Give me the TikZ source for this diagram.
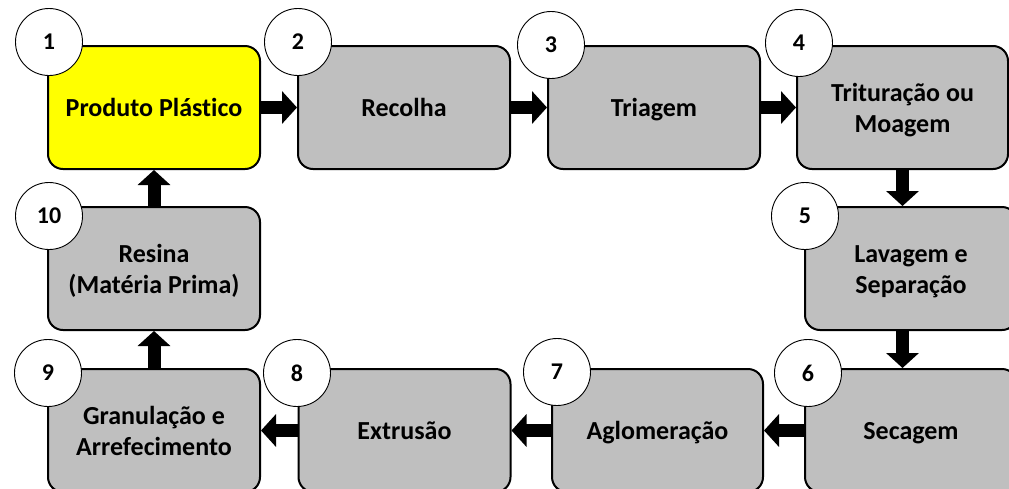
\documentclass[tikz,border=0pt]{standalone}
\usepackage{fontspec}
\setmainfont[Ligatures=NoCommon]{Carlito}
\usetikzlibrary{arrows.meta}
\definecolor{boxgray}{RGB}{191,191,191}
\definecolor{boxyellow}{RGB}{255,255,0}
\newcommand\steptxt[1]{\raisebox{-3pt}[\height][\depth]{\begin{tabular}{@{}c@{}}#1\end{tabular}}}
\begin{document}
\begin{tikzpicture}[x=1pt,y=-1pt,
  stepbox/.style={draw=black, line width=2pt, rounded corners=15pt, fill=boxgray,
    minimum width=212pt, minimum height=123pt, inner sep=0pt, align=center,
    font=\fontsize{26}{31.5}\selectfont\bfseries, text=black},
  numcirc/.style={circle, draw=black, line width=0.9pt, fill=white,
    minimum size=67pt, inner sep=0pt, font=\fontsize{24}{28}\selectfont\bfseries},
  blockarrow/.style={draw=black, line width=13pt, -{Triangle[length=15pt,width=32pt]}}
]
\useasboundingbox (0,0) rectangle (1009,488);
\clip (0,0) rectangle (1009,488);
% boxes
\node[stepbox, fill=boxyellow] (b1) at (154,107.5) {\steptxt{Produto Plástico}};
\node[stepbox] (b2) at (404,107.5) {\steptxt{Recolha}};
\node[stepbox] (b3) at (654,107.5) {\steptxt{Triagem}};
\node[stepbox, minimum width=211pt] (b4) at (902.5,107.5) {\steptxt{Trituração ou\\Moagem}};
\node[stepbox] (b5) at (911,268.5) {\steptxt{Lavagem e\\Separação}};
\node[stepbox] (b6) at (911,430.5) {\steptxt{Secagem}};
\node[stepbox, minimum width=211pt] (b7) at (657.5,430.5) {\steptxt{Aglomeração}};
\node[stepbox] (b8) at (404.5,430.5) {\steptxt{Extrusão}};
\node[stepbox] (b9) at (154,430.5) {\steptxt{Granulação e\\Arrefecimento}};
\node[stepbox] (b10) at (154,268.5) {\steptxt{Resina\\(Matéria Prima)}};
% arrows
\draw[blockarrow] (b1.east) -- (b2.west);
\draw[blockarrow] (b2.east) -- (b3.west);
\draw[blockarrow] (b3.east) -- (b4.west);
\draw[blockarrow] (b4.south) -- (b4.south |- b5.north);
\draw[blockarrow] (b5.south -| b4.south) -- (b4.south |- b6.north);
\draw[blockarrow] (b6.west) -- (b7.east);
\draw[blockarrow] (b7.west) -- (b8.east);
\draw[blockarrow] (b8.west) -- (b9.east);
\draw[blockarrow] (b9.north) -- (b10.south);
\draw[blockarrow] (b10.north) -- (b1.south);
% number circles
\node[numcirc] (c1) at (49,42) {1};
\node[numcirc] (c2) at (298,42) {2};
\node[numcirc] (c3) at (551,45) {3};
\node[numcirc] (c4) at (799,43) {4};
\node[numcirc] (c5) at (805,216) {5};
\node[numcirc] (c6) at (808,373) {6};
\node[numcirc] (c7) at (557,372) {7};
\node[numcirc] (c8) at (297,373) {8};
\node[numcirc] (c9) at (48,373) {9};
\node[numcirc] (c10) at (49,216) {10};
\end{tikzpicture}
\end{document}
